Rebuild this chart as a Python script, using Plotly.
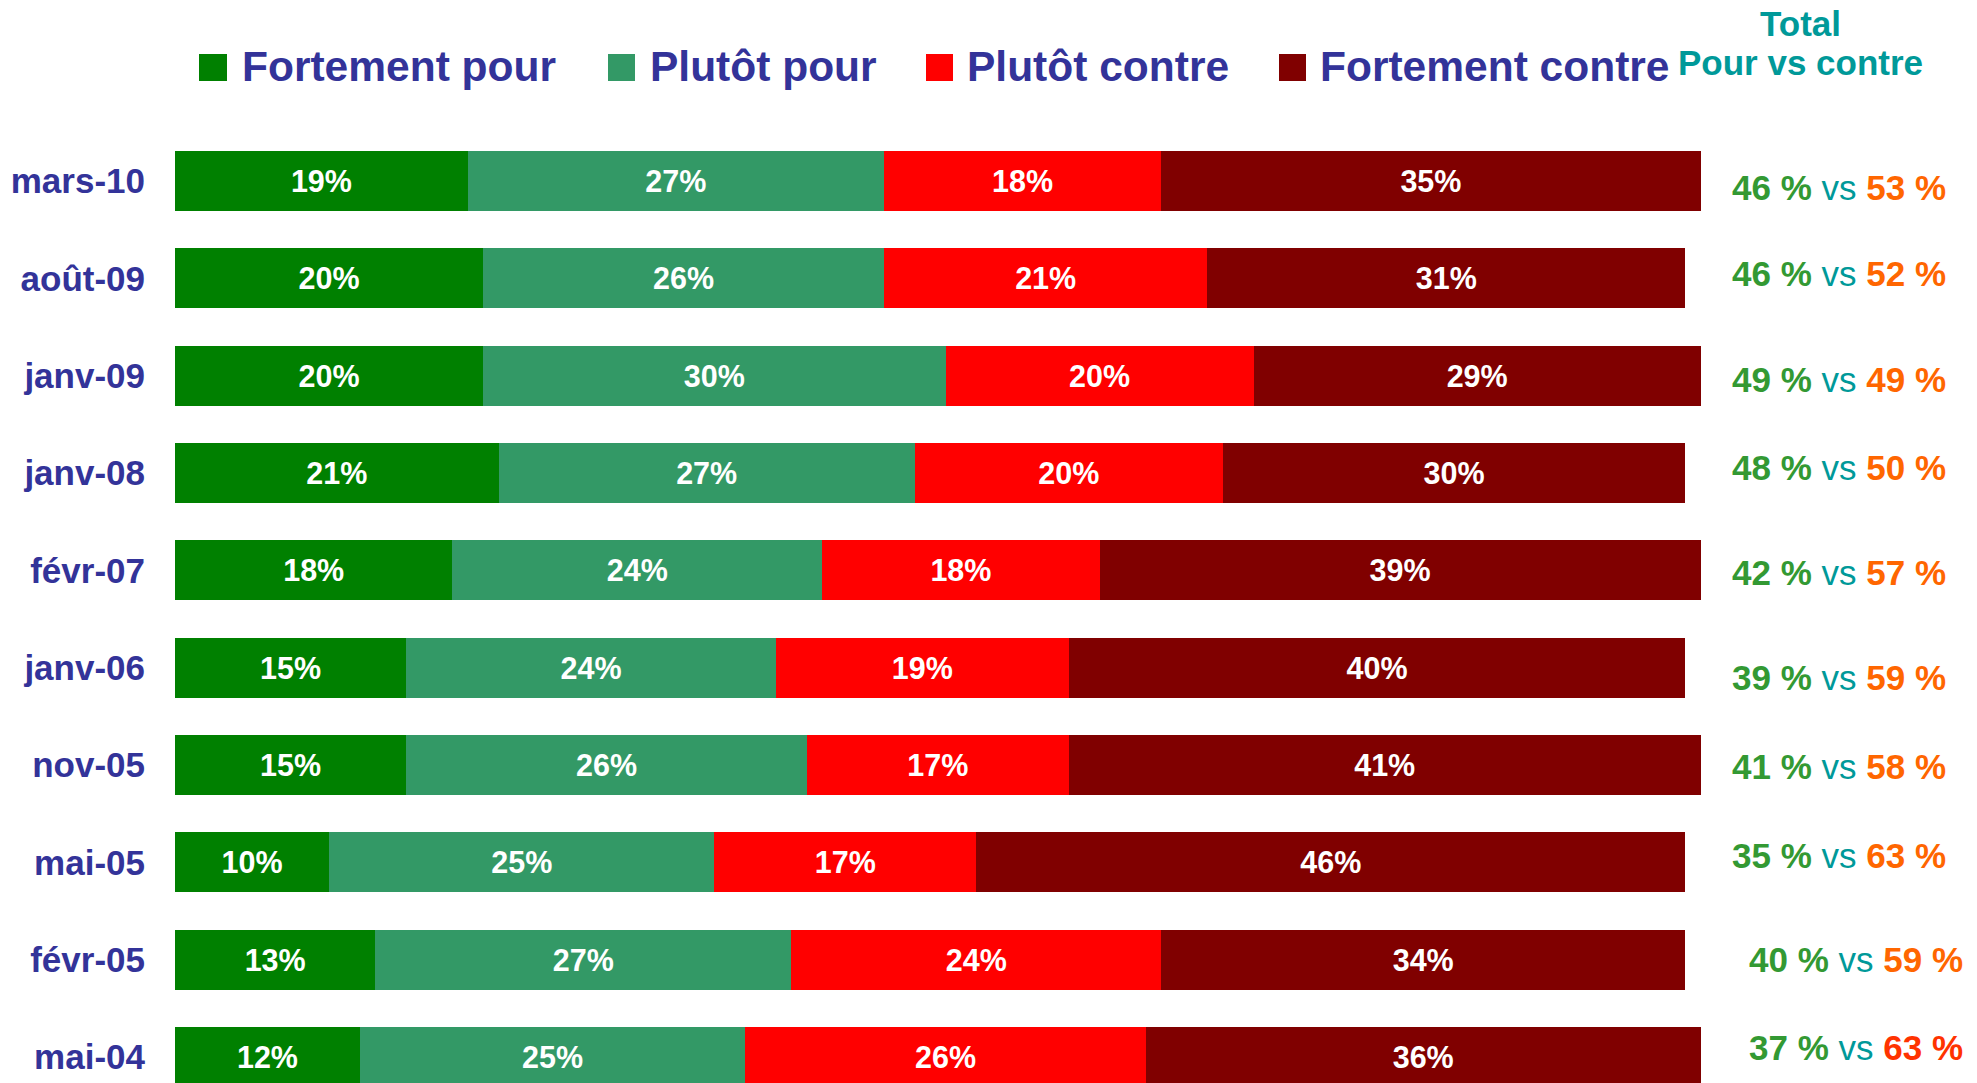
import plotly.graph_objects as go

# ---------------- data ----------------
categories = ["mars-10", "août-09", "janv-09", "janv-08", "févr-07",
              "janv-06", "nov-05", "mai-05", "févr-05", "mai-04"]
series_names = ["Fortement pour", "Plutôt pour", "Plutôt contre", "Fortement contre"]
fort_pour = [19, 20, 20, 21, 18, 15, 15, 10, 13, 12]
plutot_pour = [27, 26, 30, 27, 24, 24, 26, 25, 27, 25]
plutot_contre = [18, 21, 20, 20, 18, 19, 17, 17, 24, 26]
fort_contre = [35, 31, 29, 30, 39, 40, 41, 46, 34, 36]
total_pour = [46, 46, 49, 48, 42, 39, 41, 35, 40, 37]
total_contre = [53, 52, 49, 50, 57, 59, 58, 63, 59, 63]

# ---------------- styles ----------------
W, H = 1977, 1083
ML = 175
PX_PER_UNIT = 15.41
series_colors = ["#008000", "#339966", "#FF0000", "#800000"]
label_color = "#333399"
teal = "#009999"
pour_color = "#339933"
contre_colors = ["#FF6600"] * 9 + ["#FF3300"]
total_xshift = [0, 0, 0, 0, 0, 0, 0, 0, 17, 17]
total_yshift = [-6, 5, -4, 5, -2, -10, -2, 7, 0, 9]
FONT = "Liberation Sans, Arial, sans-serif"

fig = go.Figure()
for name, vals, col in zip(series_names,
                           [fort_pour, plutot_pour, plutot_contre, fort_contre],
                           series_colors):
    fig.add_trace(go.Bar(
        y=categories, x=vals, orientation="h", name=name,
        marker=dict(color=col, line=dict(width=0)),
        text=[f"{v}%" for v in vals], textposition="inside",
        insidetextanchor="middle", textangle=0,
        textfont=dict(family=FONT, size=30.5, color="white", weight="bold"),
        showlegend=False, hoverinfo="skip",
    ))

def px_x(px):
    return (px - ML) / (W - ML)

def px_y(py):
    return 1 - py / H

shapes = []
annotations = []

# custom legend
leg_sq = [(199, 227), (608, 635), (926, 953), (1279, 1306)]
leg_tx = [240, 648, 965, 1318]
for name, col, (x0, x1), tx in zip(series_names, series_colors, leg_sq, leg_tx):
    shapes.append(dict(type="rect", xref="paper", yref="paper",
                       x0=px_x(x0), x1=px_x(x1), y0=px_y(81), y1=px_y(54),
                       fillcolor=col, line=dict(width=0)))
    annotations.append(dict(xref="paper", yref="paper", x=px_x(tx), y=px_y(67),
                            xanchor="left", yanchor="middle", showarrow=False,
                            text=name,
                            font=dict(family=FONT, size=42.5, color=label_color, weight="bold")))

# header
annotations.append(dict(xref="paper", yref="paper", x=px_x(1800), y=px_y(23),
                        xanchor="center", yanchor="middle", showarrow=False,
                        text="Total", font=dict(family=FONT, size=35, color=teal, weight="bold")))
annotations.append(dict(xref="paper", yref="paper", x=px_x(1800), y=px_y(62),
                        xanchor="center", yanchor="middle", showarrow=False,
                        text="Pour vs contre",
                        font=dict(family=FONT, size=35, color=teal, weight="bold")))

# totals
for i, cat in enumerate(categories):
    txt = (f"<b><span style='color:{pour_color}'>{total_pour[i]} %</span></b> "
           f"<span style='color:{teal}'>vs</span> "
           f"<b><span style='color:{contre_colors[i]}'>{total_contre[i]} %</span></b>")
    annotations.append(dict(xref="paper", yref="y", x=px_x(1730), y=cat,
                            xanchor="left", yanchor="middle", showarrow=False,
                            xshift=total_xshift[i], yshift=total_yshift[i],
                            text=txt, font=dict(family=FONT, size=35, color=teal)))

row_px = 97.33
top_center = 181
r_top = -top_center / row_px
r_bot = (len(categories) - 1) + (H - (top_center + row_px * (len(categories) - 1))) / row_px

fig.update_layout(
    width=W, height=H,
    barmode="stack", bargap=0.383,
    plot_bgcolor="white", paper_bgcolor="white",
    margin=dict(l=ML, r=0, t=0, b=0),
    showlegend=False,
    shapes=shapes, annotations=annotations,
    xaxis=dict(range=[0, (W - ML) / PX_PER_UNIT], visible=False, fixedrange=True),
    yaxis=dict(type="category", categoryorder="array", categoryarray=categories,
               range=[r_bot, r_top], showgrid=False, zeroline=False, showline=False,
               ticks="", ticklabelstandoff=29, fixedrange=True,
               tickfont=dict(family=FONT, size=35, color=label_color, weight="bold")),
    uniformtext=dict(mode="show", minsize=10),
)

fig.write_html("out.html", config={"displayModeBar": False},
               post_script="document.body.style.margin='0';document.body.style.overflow='hidden';")
